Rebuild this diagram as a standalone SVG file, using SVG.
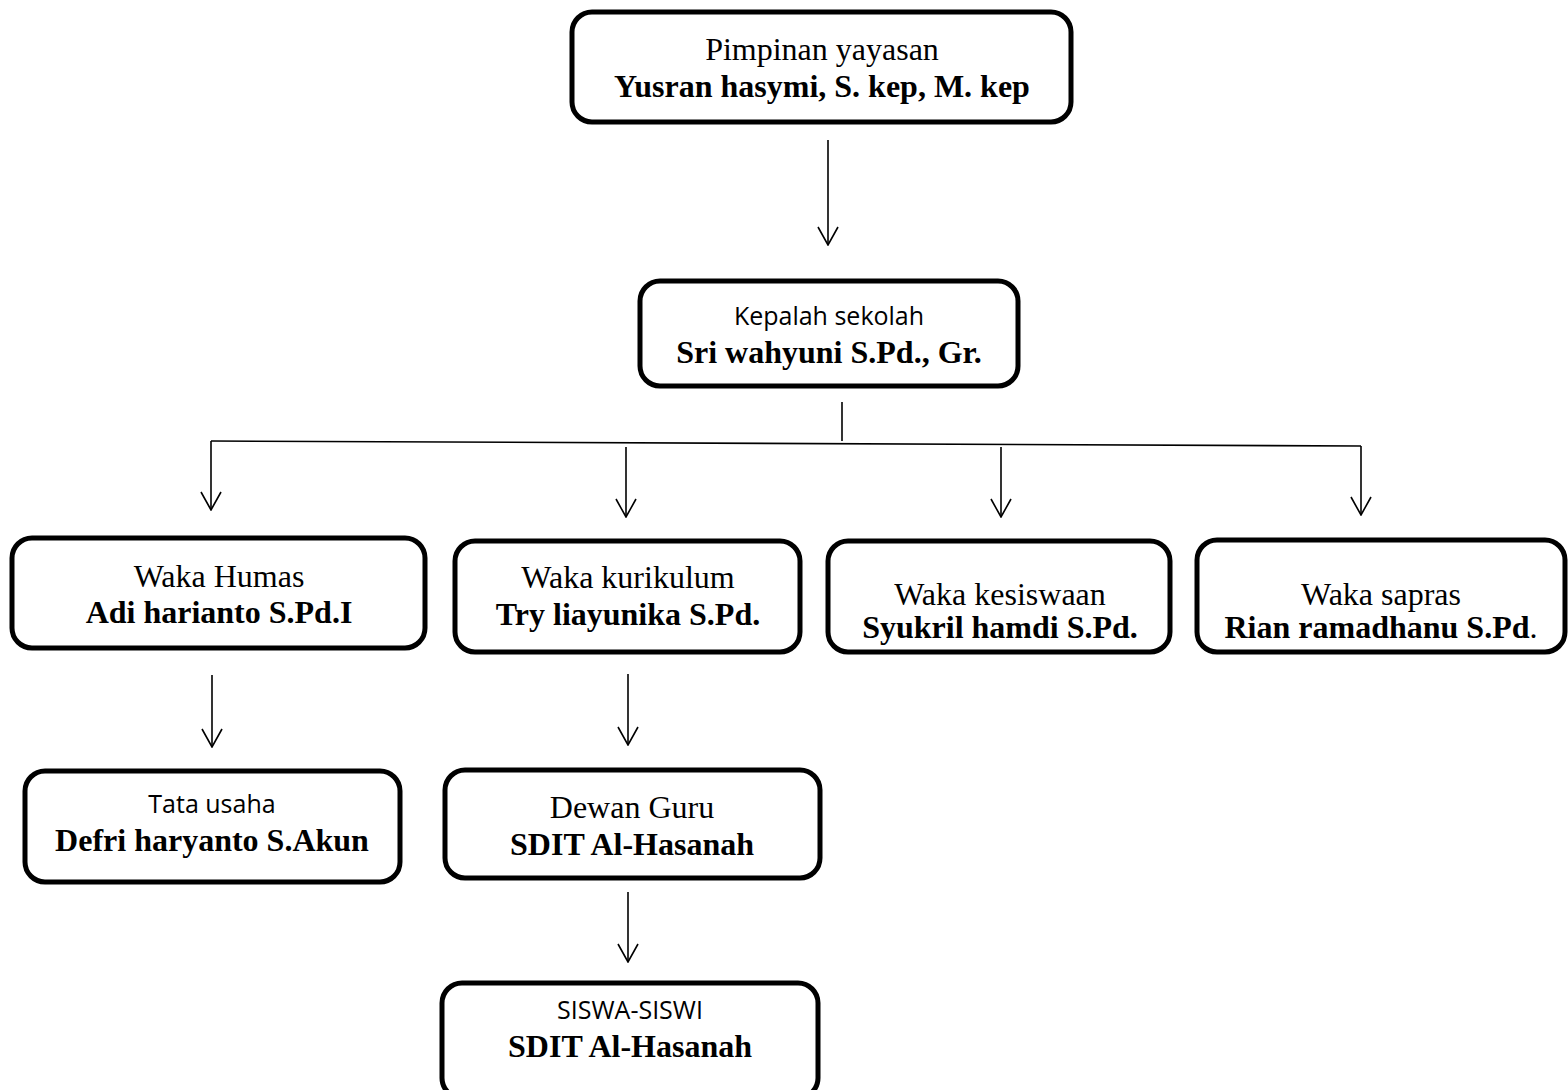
<svg xmlns="http://www.w3.org/2000/svg" width="1568" height="1090" viewBox="0 0 1568 1090">
<style>
.box{fill:#fff;stroke:#000;stroke-width:5}
.t{font-family:"Liberation Serif","Times New Roman",serif;font-size:32px;fill:#000;text-anchor:middle}
.b{font-weight:bold}
.s{font-family:"Open Sans","Liberation Sans",sans-serif;font-size:25px;fill:#000;text-anchor:middle}
.ln{fill:none;stroke:#000;stroke-width:1.6}
.arr{fill:none;stroke:#000;stroke-width:1.6;marker-end:url(#ah)}
</style>
<defs>
<marker id="ah" viewBox="0 0 20 22" refX="19" refY="11" markerWidth="20" markerHeight="22" markerUnits="userSpaceOnUse" orient="auto">
<path d="M1,1 L19,11 L1,21" fill="none" stroke="#000" stroke-width="1.6"/>
</marker>
</defs>
<rect width="1568" height="1090" fill="#fff"/>
<g id="connectors">
<path class="arr" d="M828,140 V245"/>
<path class="ln" d="M842,402 V441"/>
<path class="ln" d="M211,441 L1361,446" stroke-width="2"/>
<path class="arr" d="M211,441 V510"/>
<path class="arr" d="M626,447 V517"/>
<path class="arr" d="M1001,447 V517"/>
<path class="arr" d="M1361,446 V515"/>
<path class="arr" d="M212,675 V747"/>
<path class="arr" d="M628,674 V745"/>
<path class="arr" d="M628,892 V962"/>
</g>
<g id="pimpinan">
<rect class="box" x="572" y="12" width="499" height="110" rx="20"/>
<text class="t" x="822" y="60">Pimpinan yayasan</text>
<text class="t b" x="822" y="97">Yusran hasymi, S. kep, M. kep</text>
</g>
<g id="kepala">
<rect class="box" x="640" y="281" width="378" height="105" rx="20"/>
<text class="s" x="829" y="325">Kepalah sekolah</text>
<text class="t b" x="829" y="363">Sri wahyuni S.Pd., Gr.</text>
</g>
<g id="humas">
<rect class="box" x="12" y="538" width="413" height="110" rx="20"/>
<text class="t" x="219" y="587">Waka Humas</text>
<text class="t b" x="219" y="623">Adi harianto S.Pd.I</text>
</g>
<g id="kurikulum">
<rect class="box" x="455" y="541" width="345" height="111" rx="20"/>
<text class="t" x="628" y="588">Waka kurikulum</text>
<text class="t b" x="628" y="625">Try liayunika S.Pd.</text>
</g>
<g id="kesiswaan">
<rect class="box" x="828" y="541" width="342" height="111" rx="20"/>
<text class="t" x="1000" y="605">Waka kesiswaan</text>
<text class="t b" x="1000" y="638">Syukril hamdi S.Pd.</text>
</g>
<g id="sapras">
<rect class="box" x="1197" y="540" width="368" height="112" rx="20"/>
<text class="t" x="1381" y="605">Waka sapras</text>
<text class="t" x="1381" y="638"><tspan class="b">Rian ramadhanu S.Pd</tspan>.</text>
</g>
<g id="tatausaha">
<rect class="box" x="25" y="771" width="375" height="111" rx="20"/>
<text class="s" x="212" y="813">Tata usaha</text>
<text class="t b" x="212" y="851">Defri haryanto S.Akun</text>
</g>
<g id="dewanguru">
<rect class="box" x="445" y="770" width="375" height="108" rx="20"/>
<text class="t" x="632" y="818">Dewan Guru</text>
<text class="t b" x="632" y="855">SDIT Al-Hasanah</text>
</g>
<g id="siswa">
<rect class="box" x="442" y="983" width="376" height="115" rx="20"/>
<text class="s" x="630" y="1019">SISWA-SISWI</text>
<text class="t b" x="630" y="1057">SDIT Al-Hasanah</text>
</g>
</svg>
